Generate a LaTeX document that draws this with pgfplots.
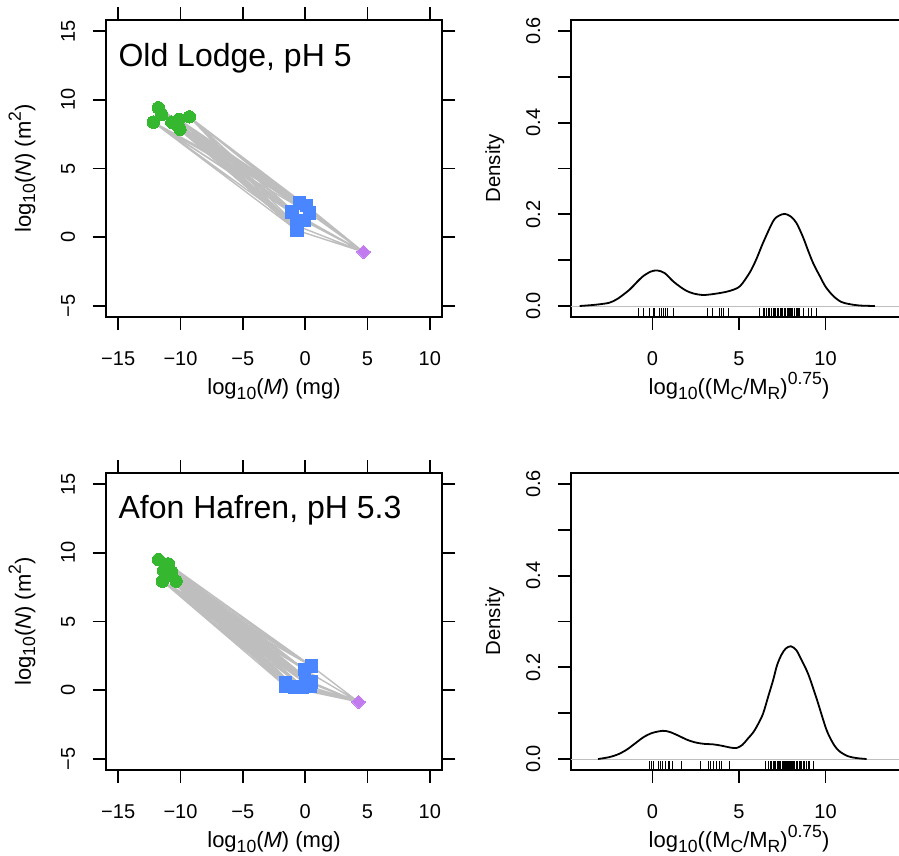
\documentclass[border=0pt]{standalone}
\usepackage{pgfplots}
\pgfplotsset{compat=1.18}
\usepackage{fontspec}
\setmainfont{Liberation Sans}
\definecolor{rgreen}{HTML}{35B82F}
\definecolor{rblue}{HTML}{4A86FF}
\definecolor{rpurple}{HTML}{C27BEF}
\definecolor{rgray}{HTML}{BEBEBE}
\newcommand\rsub[1]{\raisebox{-0.2em}{\fontsize{8.8}{10}\selectfont #1}}
\newcommand\rsup[1]{\raisebox{0.45em}{\fontsize{8.8}{10}\selectfont #1}}

\pgfplotstableread{
x y
-4.2 0.000
-3.5 0.002
-3.0 0.004
-2.47 0.0074
-2.0 0.016
-1.31 0.036
-0.9 0.052
-0.54 0.065
-0.1 0.075
0.27 0.0776
0.7 0.072
1.19 0.054
1.6 0.042
1.97 0.033
2.4 0.027
2.93 0.024
3.5 0.026
4.0 0.029
4.47 0.033
5.05 0.043
5.62 0.073
6.0 0.102
6.39 0.138
6.97 0.185
7.3 0.197
7.65 0.201
8.0 0.195
8.32 0.181
8.7 0.150
9.0 0.120
9.3 0.092
9.67 0.065
10.0 0.042
10.44 0.022
10.9 0.009
11.4 0.004
12.0 0.001
12.85 0.000
}\densA

\pgfplotstableread{
x y
-3.14 0.000
-2.5 0.004
-2.0 0.010
-1.5 0.020
-1.0 0.034
-0.5 0.048
0.0 0.057
0.6 0.0615
1.0 0.059
1.5 0.051
2.0 0.042
2.5 0.036
3.0 0.033
3.5 0.032
4.0 0.029
4.5 0.025
4.86 0.024
5.2 0.031
5.5 0.044
5.82 0.058
6.1 0.076
6.39 0.099
6.7 0.138
6.97 0.172
7.2 0.205
7.46 0.228
7.7 0.241
7.99 0.246
8.3 0.238
8.6 0.217
9.0 0.185
9.48 0.132
10.06 0.063
10.5 0.030
10.83 0.016
11.3 0.006
11.8 0.002
12.37 0.000
}\densB

\pgfplotsset{
  rbase/.style={scale only axis, width=168.3pt, height=148.5pt,
    axis line style={line width=0.9pt},
    tick style={line width=0.9pt, black},
    tick align=outside, major tick length=6.5pt,
    tick label style={font=\fontsize{10}{12}\selectfont},
    label style={font=\fontsize{11}{13}\selectfont},
    /pgf/number format/assume math mode=true,
    xticklabel style={anchor=base}, xticklabel shift=17.5pt,
    yticklabel style={rotate=90, anchor=base}, yticklabel shift=8.85pt,
    xlabel style={at={(axis description cs:0.5,-0.262)}, anchor=base},
  },
  leftp/.style={rbase, xmin=-16, xmax=11, ymin=-5.8, ymax=15.8,
    xtick={-15,-10,-5,0,5,10}, xticklabels={−15,−10,−5,0,5,10},
    ytick={-5,0,5,10,15}, yticklabels={−5,0,5,10,15},
    xlabel={log\rsub{10}(\textit{M}) (mg)},
    ylabel={log\rsub{10}(\textit{N}) (m\rsup{2})},
    ylabel style={at={(axis description cs:-0.2225,0.5)}, anchor=base},
  },
  rightp/.style={rbase, xmin=-4.72, xmax=14.72, ymin=-0.024, ymax=0.624,
    xtick={0,5,10}, xticklabels={0,5,10},
    ytick={0,0.1,0.2,0.3,0.4,0.5,0.6}, yticklabels={0.0,,0.2,,0.4,,0.6},
    xtick pos=left, ytick pos=left,
    xlabel={log\rsub{10}((M\rsub{C}/M\rsub{R})\rsup{0.75})},
    ylabel={Density},
    ylabel style={at={(axis description cs:-0.210,0.5)}, anchor=base, font=\fontsize{10.2}{12}\selectfont},
  },
  lnk/.style={rgray, line width=0.7pt, mark=none},
  gpt/.style={only marks, mark=*, mark size=3.1pt, mark options={draw=rgreen, fill=rgreen, line width=0pt}},
  bpt/.style={only marks, mark=square*, mark size=3.1pt, mark options={draw=rblue, fill=rblue, line width=0pt}},
  ppt/.style={only marks, mark=square*, mark size=2.4pt, mark options={draw=rpurple, fill=rpurple, rotate=45, line width=0pt}},
  rug/.style={only marks, mark=|, mark size=2.23pt, mark options={black, line width=0.5pt}},
}

\begin{document}
\begin{tikzpicture}
\useasboundingbox (0,0) rectangle (449.5pt,-428pt);

% ---------- top left ----------
\begin{axis}[leftp, at={(52.85pt,-158.5pt)}, anchor=south west]
\addplot[lnk] coordinates {(-11.78,9.42)(-0.45,2.5)(-11.78,9.42)(0.1,2.3)(-11.78,9.42)(-1.05,1.85)(-11.78,9.42)(0.35,1.75)(-11.78,9.42)(-0.1,1.2)(-11.78,9.42)(-0.7,0.85)(-11.78,9.42)(-0.65,0.5)};
\addplot[lnk] coordinates {(-11.5,8.93)(-0.45,2.5)(-11.5,8.93)(0.1,2.3)(-11.5,8.93)(-1.05,1.85)(-11.5,8.93)(0.35,1.75)(-11.5,8.93)(-0.1,1.2)(-11.5,8.93)(-0.7,0.85)(-11.5,8.93)(-0.65,0.5)};
\addplot[lnk] coordinates {(-12.18,8.37)(-0.45,2.5)(-12.18,8.37)(0.1,2.3)(-12.18,8.37)(-1.05,1.85)(-12.18,8.37)(0.35,1.75)(-12.18,8.37)(-0.1,1.2)(-12.18,8.37)(-0.7,0.85)(-12.18,8.37)(-0.65,0.5)};
\addplot[lnk] coordinates {(-10.7,8.37)(-0.45,2.5)(-10.7,8.37)(0.1,2.3)(-10.7,8.37)(-1.05,1.85)(-10.7,8.37)(0.35,1.75)(-10.7,8.37)(-0.1,1.2)(-10.7,8.37)(-0.7,0.85)(-10.7,8.37)(-0.65,0.5)};
\addplot[lnk] coordinates {(-10.12,8.57)(-0.45,2.5)(-10.12,8.57)(0.1,2.3)(-10.12,8.57)(-1.05,1.85)(-10.12,8.57)(0.35,1.75)(-10.12,8.57)(-0.1,1.2)(-10.12,8.57)(-0.7,0.85)(-10.12,8.57)(-0.65,0.5)};
\addplot[lnk] coordinates {(-10.04,7.85)(-0.45,2.5)(-10.04,7.85)(0.1,2.3)(-10.04,7.85)(-1.05,1.85)(-10.04,7.85)(0.35,1.75)(-10.04,7.85)(-0.1,1.2)(-10.04,7.85)(-0.7,0.85)(-10.04,7.85)(-0.65,0.5)};
\addplot[lnk] coordinates {(-9.29,8.76)(-0.45,2.5)(-9.29,8.76)(0.1,2.3)(-9.29,8.76)(-1.05,1.85)(-9.29,8.76)(0.35,1.75)(-9.29,8.76)(-0.1,1.2)(-9.29,8.76)(-0.7,0.85)(-9.29,8.76)(-0.65,0.5)};
\addplot[lnk] coordinates {(-10.3,8.2)(-0.45,2.5)(-10.3,8.2)(0.1,2.3)(-10.3,8.2)(-1.05,1.85)(-10.3,8.2)(0.35,1.75)(-10.3,8.2)(-0.1,1.2)(-10.3,8.2)(-0.7,0.85)(-10.3,8.2)(-0.65,0.5)};
\addplot[lnk] coordinates {(4.68,-1.07)(-0.45,2.5)(4.68,-1.07)(0.1,2.3)(4.68,-1.07)(-1.05,1.85)(4.68,-1.07)(0.35,1.75)(4.68,-1.07)(-0.1,1.2)(4.68,-1.07)(-0.7,0.85)(4.68,-1.07)(-0.65,0.5)};
\addplot[gpt] coordinates {(-11.78,9.42)(-11.5,8.93)(-12.18,8.37)(-10.7,8.37)(-10.12,8.57)(-10.04,7.85)(-9.29,8.76)(-10.3,8.2)};
\addplot[bpt] coordinates {(-0.45,2.5)(0.1,2.3)(-1.05,1.85)(0.35,1.75)(-0.1,1.2)(-0.7,0.85)(-0.65,0.5)};
\addplot[ppt] coordinates {(4.68,-1.07)};
\node[anchor=base west, font=\fontsize{16}{19}\selectfont, inner sep=0pt] at (axis cs:-15,12.4) {Old Lodge, pH 5};
\end{axis}

% ---------- top right ----------
\begin{axis}[rightp, at={(285.35pt,-158.5pt)}, anchor=south west]
\addplot[rgray, line width=0.5pt] coordinates {(-4.72,0) (14.72,0)};
\addplot[black, line width=0.9pt, smooth, tension=0.5] table {\densA};
\addplot[rug] coordinates {(-0.83,-0.0143)(-0.54,-0.0143)(-0.19,-0.0143)(0.04,-0.0143)(0.13,-0.0143)(0.38,-0.0143)(0.52,-0.0143)(0.65,-0.0143)(0.77,-0.0143)(0.85,-0.0143)(1.19,-0.0143)
(3.18,-0.0143)(3.47,-0.0143)(3.85,-0.0143)(3.99,-0.0143)(4.08,-0.0143)(4.37,-0.0143)
(6.16,-0.0143)(6.4,-0.0143)(6.5,-0.0143)(6.6,-0.0143)(6.7,-0.0143)(6.75,-0.0143)(6.85,-0.0143)(6.9,-0.0143)(7.0,-0.0143)(7.05,-0.0143)(7.1,-0.0143)(7.2,-0.0143)(7.25,-0.0143)(7.3,-0.0143)(7.4,-0.0143)(7.45,-0.0143)(7.5,-0.0143)(7.6,-0.0143)(7.65,-0.0143)(7.7,-0.0143)(7.8,-0.0143)(7.85,-0.0143)(7.9,-0.0143)(8.0,-0.0143)(8.05,-0.0143)(8.1,-0.0143)(8.2,-0.0143)(8.3,-0.0143)(8.35,-0.0143)(8.45,-0.0143)(8.5,-0.0143)(8.71,-0.0143)(9.0,-0.0143)(9.19,-0.0143)(9.48,-0.0143)};
\end{axis}

% ---------- bottom left ----------
\begin{axis}[leftp, at={(52.85pt,-385pt)}, anchor=south west]
\addplot[lnk] coordinates {(-11.77,9.5)(-1.58,0.55)(-11.77,9.5)(-1.55,0.27)(-11.77,9.5)(-0.85,0.25)(-11.77,9.5)(-0.2,0.25)(-11.77,9.5)(0.4,0.27)(-11.77,9.5)(0.05,0.65)(-11.77,9.5)(0.5,0.6)(-11.77,9.5)(-0.05,1.5)(-11.77,9.5)(0.5,1.76)};
\addplot[lnk] coordinates {(-10.97,9.19)(-1.58,0.55)(-10.97,9.19)(-1.55,0.27)(-10.97,9.19)(-0.85,0.25)(-10.97,9.19)(-0.2,0.25)(-10.97,9.19)(0.4,0.27)(-10.97,9.19)(0.05,0.65)(-10.97,9.19)(0.5,0.6)(-10.97,9.19)(-0.05,1.5)(-10.97,9.19)(0.5,1.76)};
\addplot[lnk] coordinates {(-11.37,8.71)(-1.58,0.55)(-11.37,8.71)(-1.55,0.27)(-11.37,8.71)(-0.85,0.25)(-11.37,8.71)(-0.2,0.25)(-11.37,8.71)(0.4,0.27)(-11.37,8.71)(0.05,0.65)(-11.37,8.71)(0.5,0.6)(-11.37,8.71)(-0.05,1.5)(-11.37,8.71)(0.5,1.76)};
\addplot[lnk] coordinates {(-10.7,8.59)(-1.58,0.55)(-10.7,8.59)(-1.55,0.27)(-10.7,8.59)(-0.85,0.25)(-10.7,8.59)(-0.2,0.25)(-10.7,8.59)(0.4,0.27)(-10.7,8.59)(0.05,0.65)(-10.7,8.59)(0.5,0.6)(-10.7,8.59)(-0.05,1.5)(-10.7,8.59)(0.5,1.76)};
\addplot[lnk] coordinates {(-11.45,7.93)(-1.58,0.55)(-11.45,7.93)(-1.55,0.27)(-11.45,7.93)(-0.85,0.25)(-11.45,7.93)(-0.2,0.25)(-11.45,7.93)(0.4,0.27)(-11.45,7.93)(0.05,0.65)(-11.45,7.93)(0.5,0.6)(-11.45,7.93)(-0.05,1.5)(-11.45,7.93)(0.5,1.76)};
\addplot[lnk] coordinates {(-10.35,7.93)(-1.58,0.55)(-10.35,7.93)(-1.55,0.27)(-10.35,7.93)(-0.85,0.25)(-10.35,7.93)(-0.2,0.25)(-10.35,7.93)(0.4,0.27)(-10.35,7.93)(0.05,0.65)(-10.35,7.93)(0.5,0.6)(-10.35,7.93)(-0.05,1.5)(-10.35,7.93)(0.5,1.76)};
\addplot[lnk] coordinates {(-11.2,8.35)(-1.58,0.55)(-11.2,8.35)(-1.55,0.27)(-11.2,8.35)(-0.85,0.25)(-11.2,8.35)(-0.2,0.25)(-11.2,8.35)(0.4,0.27)(-11.2,8.35)(0.05,0.65)(-11.2,8.35)(0.5,0.6)(-11.2,8.35)(-0.05,1.5)(-11.2,8.35)(0.5,1.76)};
\addplot[lnk] coordinates {(4.28,-0.85)(-1.58,0.55)(4.28,-0.85)(-1.55,0.27)(4.28,-0.85)(-0.85,0.25)(4.28,-0.85)(-0.2,0.25)(4.28,-0.85)(0.4,0.27)(4.28,-0.85)(0.05,0.65)(4.28,-0.85)(0.5,0.6)(4.28,-0.85)(-0.05,1.5)(4.28,-0.85)(0.5,1.76)};
\addplot[gpt] coordinates {(-11.77,9.5)(-10.97,9.19)(-11.37,8.71)(-10.7,8.59)(-11.45,7.93)(-10.35,7.93)(-11.2,8.35)};
\addplot[bpt] coordinates {(-1.58,0.55)(-1.55,0.27)(-0.85,0.25)(-0.2,0.25)(0.4,0.27)(0.05,0.65)(0.5,0.6)(-0.05,1.5)(0.5,1.76)};
\addplot[ppt] coordinates {(4.28,-0.85)};
\node[anchor=base west, font=\fontsize{16}{19}\selectfont, inner sep=0pt] at (axis cs:-15,12.47) {Afon Hafren, pH 5.3};
\end{axis}

% ---------- bottom right ----------
\begin{axis}[rightp, at={(285.35pt,-385pt)}, anchor=south west]
\addplot[rgray, line width=0.5pt] coordinates {(-4.72,0) (14.72,0)};
\addplot[black, line width=0.9pt, smooth, tension=0.5] table {\densB};
\addplot[rug] coordinates {(-0.16,-0.0143)(-0.06,-0.0143)(0.04,-0.0143)(0.33,-0.0143)(0.46,-0.0143)(0.61,-0.0143)(0.77,-0.0143)(0.9,-0.0143)(1.0,-0.0143)(1.16,-0.0143)(1.68,-0.0143)
(2.77,-0.0143)(3.22,-0.0143)(3.35,-0.0143)(3.5,-0.0143)(3.7,-0.0143)(3.85,-0.0143)(3.99,-0.0143)(4.43,-0.0143)
(6.55,-0.0143)(6.7,-0.0143)(6.8,-0.0143)(6.9,-0.0143)(7.0,-0.0143)(7.05,-0.0143)(7.1,-0.0143)(7.2,-0.0143)(7.3,-0.0143)(7.35,-0.0143)(7.4,-0.0143)(7.5,-0.0143)(7.55,-0.0143)(7.6,-0.0143)(7.7,-0.0143)(7.75,-0.0143)(7.8,-0.0143)(7.85,-0.0143)(7.9,-0.0143)(8.0,-0.0143)(8.05,-0.0143)(8.1,-0.0143)(8.15,-0.0143)(8.2,-0.0143)(8.3,-0.0143)(8.35,-0.0143)(8.4,-0.0143)(8.5,-0.0143)(8.55,-0.0143)(8.6,-0.0143)(8.7,-0.0143)(8.8,-0.0143)(8.9,-0.0143)(9.0,-0.0143)(9.09,-0.0143)(9.32,-0.0143)};
\end{axis}
\end{tikzpicture}
\end{document}
